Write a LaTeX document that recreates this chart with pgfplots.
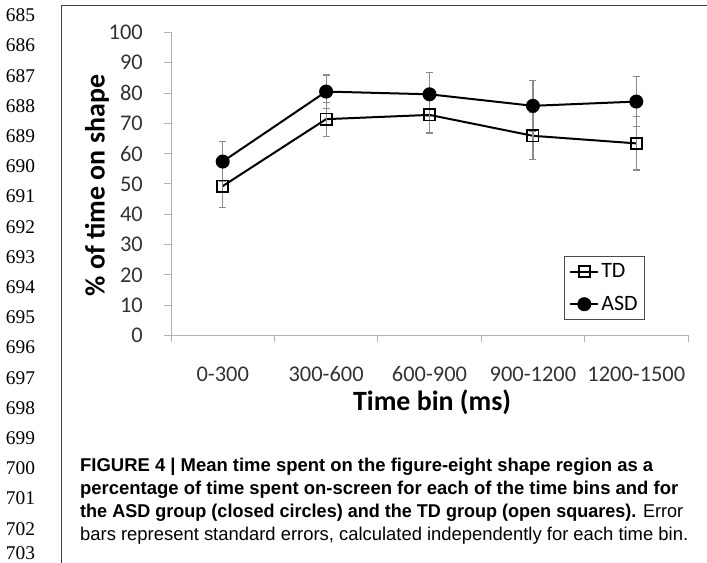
\documentclass[border=0pt]{standalone}
\usepackage{pgfplots}
\pgfplotsset{compat=1.18}
\usepackage{graphicx}
\usepackage{fontspec}
\setmainfont{Carlito}
\newfontfamily\capfont{Liberation Sans}
\newfontfamily\numfont{Liberation Serif}

\pgfplotstableread{
x y e
0 49.3 7.0
1 71.4 5.6
2 72.8 6.0
3 65.9 7.7
4 63.4 8.8
}\tdtable
\pgfplotstableread{
x y e
0 57.4 6.6
1 80.5 5.5
2 79.6 7.2
3 75.8 8.3
4 77.2 8.2
}\asdtable

\begin{document}
\begin{tikzpicture}[x=1bp,y=1bp]
\useasboundingbox (0,0) rectangle (707,563);
\draw[line width=1.4bp, black!75] (61.5,0) -- (61.5,557.3) -- (707,557.3);
\foreach \n [count=\i from 0] in {685,...,702} {
  \node[font=\numfont\fontsize{19.5}{21}\selectfont, anchor=center, inner sep=0pt] at (20.5, 547.7-30.2*\i) {\n};
}
\node[font=\numfont\fontsize{19.5}{21}\selectfont, anchor=south, inner sep=0pt] at (20.5, 3) {703};
\begin{axis}[
  at={(171bp,227.5bp)}, anchor=south west, scale only axis,
  width=517bp, height=303bp,
  xmin=-0.5, xmax=4.5, ymin=0, ymax=100,
  ytick={0,10,...,100},
  xtick={0,...,4},
  xticklabels={0-300,300-600,600-900,900-1200,1200-1500},
  minor xtick={-0.5,0.5,...,4.5},
  axis x line*=bottom, axis y line*=left,
  axis line style={black!30, line width=1bp, -},
  major tick length=7bp, minor tick length=7bp,
  tick align=outside,
  major x tick style={draw=none},
  minor x tick style={black!30, line width=1bp},
  y tick style={black!30, line width=1bp},
  /pgf/number format/assume math mode=true,
  tick label style={font=\fontsize{22.5}{26}\selectfont, text=black!80},
  yticklabel style={anchor=east, inner sep=0pt, xshift=-21bp},
  xticklabel style={anchor=center, inner sep=0pt, yshift=-32bp},
  ylabel={\% of time on shape},
  xlabel={Time bin (ms)},
  every axis y label/.style={at={(axis description cs:-0.143,0.495)}, anchor=center, rotate=90, font=\bfseries\fontsize{28}{32}\selectfont},
  every axis x label/.style={at={(axis description cs:0.505,-0.221)}, anchor=center, font=\bfseries\fontsize{28}{32}\selectfont},
  legend style={at={(axis description cs:0.760,0.261)}, anchor=north west, draw=black!70, line width=0.8bp, font=\fontsize{22}{25}\selectfont, inner sep=5bp, row sep=13bp},
  legend cell align=left,
  legend image code/.code={\draw[mark repeat=2,mark phase=2] plot coordinates {(0bp,0bp) (14bp,0bp) (28bp,0bp)};},
  clip=false,
]
\addplot[black, line width=2bp, mark=square, mark size=5.6bp,
  mark options={fill=white, line width=1.7bp, solid},
  error bars/.cd, y dir=both, y explicit,
  error bar style={black!45, line width=1.2bp},
  error mark options={rotate=90, mark size=3.5bp, black!45, line width=1.2bp}]
  table[x=x, y=y, y error=e] {\tdtable};
\addlegendentry{TD}
\addplot[black, line width=2bp, mark=*, mark size=6bp,
  mark options={fill=black, solid},
  error bars/.cd, y dir=both, y explicit,
  error bar style={black!45, line width=1.2bp},
  error mark options={rotate=90, mark size=3.5bp, black!45, line width=1.2bp}]
  table[x=x, y=y, y error=e] {\asdtable};
\addlegendentry{ASD}
\end{axis}
\node[anchor=base west, inner sep=0pt] at (80,91.3) {\resizebox{573bp}{\height}{\capfont\bfseries\fontsize{18.6}{22}\selectfont FIGURE 4 | Mean time spent on the figure-eight shape region as a}};
\node[anchor=base west, inner sep=0pt] at (80,68) {\resizebox{598bp}{\height}{\capfont\bfseries\fontsize{18.6}{22}\selectfont percentage of time spent on-screen for each of the time bins and for}};
\node[anchor=base west, inner sep=0pt] at (80,45) {\resizebox{603bp}{\height}{\capfont\fontsize{18.6}{22}\selectfont\textbf{the ASD group (closed circles) and the TD group (open squares).} Error}};
\node[anchor=base west, inner sep=0pt] at (80,22.5) {\resizebox{608bp}{\height}{\capfont\fontsize{18.6}{22}\selectfont bars represent standard errors, calculated independently for each time bin.}};
\end{tikzpicture}
\end{document}
